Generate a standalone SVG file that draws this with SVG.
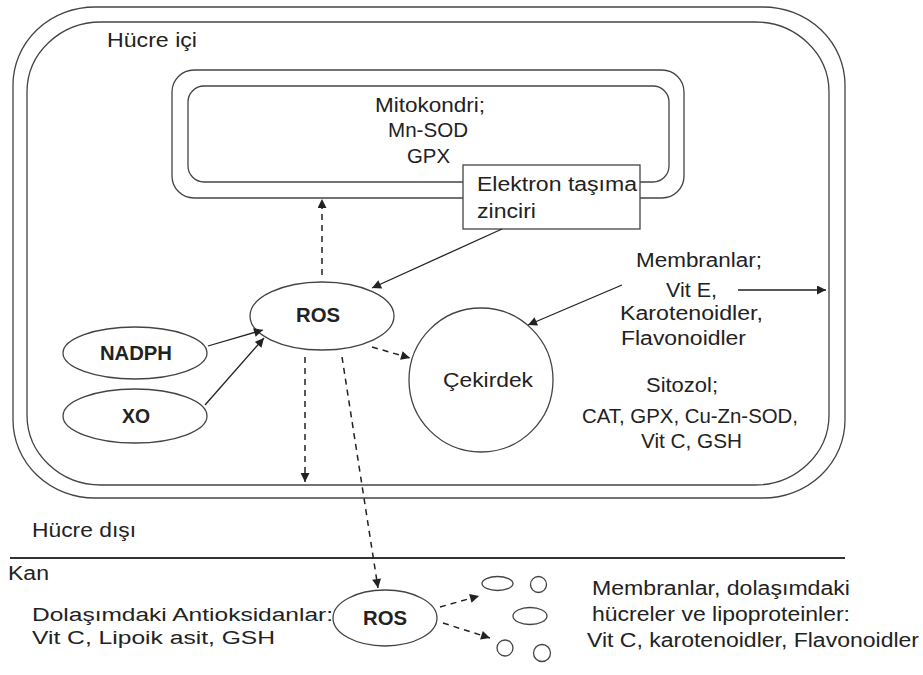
<svg xmlns="http://www.w3.org/2000/svg" width="923" height="675" viewBox="0 0 923 675">
<defs>
<marker id="ah" viewBox="0 0 10 10" refX="10" refY="5" markerWidth="10" markerHeight="9" markerUnits="userSpaceOnUse" orient="auto">
<path d="M0,0 L10,5 L0,10 z" fill="#222"/>
</marker>
</defs>
<style>
text{font-family:"Liberation Sans",Arial,sans-serif;font-size:20px;fill:#222}
.b{font-weight:bold}
.s{font-size:18px}
.shape{fill:none;stroke:#444;stroke-width:1.3}
.wf{fill:#fff;stroke:#444;stroke-width:1.3}
.c{fill:none;stroke:#222;stroke-width:1.3}
.d{fill:none;stroke:#222;stroke-width:1.5;stroke-dasharray:6,5}
</style>
<rect width="923" height="675" fill="#fff"/>
<g id="cell">
<rect class="shape" x="13" y="7" width="832" height="491" rx="82" ry="78"/>
<rect class="shape" x="27" y="22" width="802" height="463" rx="74" ry="70"/>
<text x="107" y="47" textLength="90" lengthAdjust="spacingAndGlyphs">Hücre içi</text>
</g>
<g id="mitokondri">
<rect class="shape" x="172" y="70" width="512" height="128" rx="22"/>
<rect class="shape" x="188" y="86" width="481" height="96" rx="16"/>
<text x="375" y="112" textLength="110" lengthAdjust="spacingAndGlyphs">Mitokondri;</text>
<text x="388" y="137" textLength="80" lengthAdjust="spacingAndGlyphs">Mn-SOD</text>
<text x="407" y="163" textLength="43" lengthAdjust="spacingAndGlyphs">GPX</text>
</g>
<g id="elektron">
<rect class="wf" x="463" y="165" width="177" height="64"/>
<text x="477" y="191" textLength="160" lengthAdjust="spacingAndGlyphs">Elektron taşıma</text>
<text x="477" y="218" textLength="59" lengthAdjust="spacingAndGlyphs">zinciri</text>
</g>
<g id="ros">
<ellipse class="shape" cx="322" cy="316" rx="72" ry="34"/>
<text class="b" x="296" y="322" textLength="44" lengthAdjust="spacingAndGlyphs">ROS</text>
</g>
<g id="nadph">
<ellipse class="shape" cx="135" cy="353" rx="72" ry="26"/>
<text class="b" x="100" y="360" textLength="72" lengthAdjust="spacingAndGlyphs">NADPH</text>
</g>
<g id="xo">
<ellipse class="shape" cx="135" cy="416" rx="72" ry="27"/>
<text class="b" x="122" y="423" textLength="28" lengthAdjust="spacingAndGlyphs">XO</text>
</g>
<g id="cekirdek">
<circle class="shape" cx="481" cy="380" r="72"/>
<text x="443" y="387" textLength="90" lengthAdjust="spacingAndGlyphs">Çekirdek</text>
</g>
<g id="membranlar">
<text x="636" y="267" textLength="126" lengthAdjust="spacingAndGlyphs">Membranlar;</text>
<text x="666" y="297" textLength="51" lengthAdjust="spacingAndGlyphs">Vit E,</text>
<text x="620" y="320" textLength="143" lengthAdjust="spacingAndGlyphs">Karotenoidler,</text>
<text x="621" y="345" textLength="125" lengthAdjust="spacingAndGlyphs">Flavonoidler</text>
</g>
<g id="sitozol">
<text x="646" y="392" textLength="72" lengthAdjust="spacingAndGlyphs">Sitozol;</text>
<text x="582" y="423" textLength="216" lengthAdjust="spacingAndGlyphs">CAT, GPX, Cu-Zn-SOD,</text>
<text x="641" y="448" textLength="101" lengthAdjust="spacingAndGlyphs">Vit C, GSH</text>
</g>
<g id="disari">
<text x="32" y="537" textLength="104" lengthAdjust="spacingAndGlyphs">Hücre dışı</text>
<line x1="10" y1="558" x2="845" y2="558" stroke="#333" stroke-width="2"/>
<text x="8" y="580" textLength="41" lengthAdjust="spacingAndGlyphs">Kan</text>
</g>
<g id="dolasim">
<text class="s" x="32" y="621" textLength="301" lengthAdjust="spacingAndGlyphs">Dolaşımdaki Antioksidanlar:</text>
<text class="s" x="32" y="644" textLength="243" lengthAdjust="spacingAndGlyphs">Vit C, Lipoik asit, GSH</text>
</g>
<g id="ros2">
<ellipse class="shape" cx="385" cy="618" rx="52" ry="28"/>
<text class="b" x="363" y="625" textLength="44" lengthAdjust="spacingAndGlyphs">ROS</text>
</g>
<g id="hucreler">
<ellipse class="shape" cx="497.500" cy="583.500" rx="15.500" ry="7"/>
<circle class="shape" cx="538.500" cy="584.500" r="8"/>
<ellipse class="shape" cx="530" cy="616" rx="17" ry="8.500"/>
<circle class="shape" cx="505" cy="648" r="8"/>
<circle class="shape" cx="542" cy="653" r="8.500"/>
<text x="592" y="595" textLength="258" lengthAdjust="spacingAndGlyphs">Membranlar, dolaşımdaki</text>
<text x="592" y="621" textLength="258" lengthAdjust="spacingAndGlyphs">hücreler ve lipoproteinler:</text>
<text x="587" y="647" textLength="332" lengthAdjust="spacingAndGlyphs">Vit C, karotenoidler, Flavonoidler</text>
</g>
<g id="connectors">
<line class="d" x1="322" y1="275" x2="322" y2="199" marker-end="url(#ah)"/>
<line class="c" x1="502" y1="229" x2="372" y2="288" marker-end="url(#ah)"/>
<line class="c" x1="208" y1="346" x2="263" y2="330" marker-end="url(#ah)"/>
<line class="c" x1="205" y1="405" x2="264" y2="338" marker-end="url(#ah)"/>
<line class="d" x1="372" y1="347" x2="410" y2="358" marker-end="url(#ah)"/>
<line class="c" x1="622" y1="285" x2="528" y2="325" marker-end="url(#ah)"/>
<line class="c" x1="738" y1="290" x2="826" y2="290" marker-end="url(#ah)"/>
<line class="d" x1="305" y1="357" x2="305" y2="482" marker-end="url(#ah)"/>
<line class="d" x1="342" y1="357" x2="378" y2="588" marker-end="url(#ah)"/>
<line class="d" x1="440" y1="607" x2="479" y2="596" marker-end="url(#ah)"/>
<line class="d" x1="443" y1="623" x2="490" y2="638" marker-end="url(#ah)"/>
</g>
</svg>
